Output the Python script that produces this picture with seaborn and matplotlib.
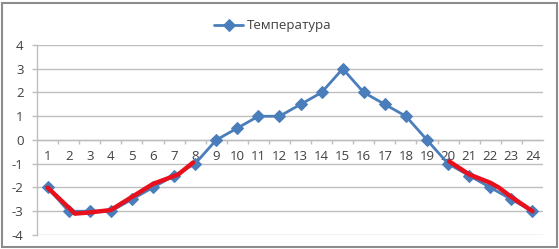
import matplotlib
matplotlib.use("Agg")
import matplotlib.pyplot as plt
import seaborn as sns
import pandas as pd
from matplotlib.patches import Rectangle

hours = list(range(1, 25))
temperature = [-2, -3, -3, -3, -2.5, -2, -1.5, -1, 0, 0.5, 1, 1, 1.5, 2, 3, 2, 1.5, 1, 0, -1, -1.5, -2, -2.5, -3]
series_name = "Температура"

# hand-drawn red overlay
red_left_x = [1, 2.3, 3, 4, 5, 6, 7.2, 7.9]
red_left_y = [-2, -3.1, -3.05, -2.95, -2.4, -1.85, -1.45, -0.95]
red_right_x = [20.05, 21, 22, 22.4, 23, 24]
red_right_y = [-0.9, -1.45, -1.8, -2.0, -2.4, -3.0]

y_ticks = [-4, -3, -2, -1, 0, 1, 2, 3, 4]

sns.set_theme(style="white")
plt.rcParams['font.family'] = ['Open Sans', 'DejaVu Sans']

fig = plt.figure(figsize=(5.59, 2.49), dpi=100)
ax = fig.add_axes([37/559, 1 - 235/249, (543 - 37)/559, (235 - 45)/249])

blue = "#4A7EBB"
grid_c = "#BEBEBE"

for v in y_ticks:
    ax.axhline(v, color=grid_c, lw=1.0, zorder=0)

df = pd.DataFrame({"hour": hours, "temp": temperature})
sns.lineplot(data=df, x="hour", y="temp", ax=ax, color=blue, lw=2.0,
             marker="D", markersize=6.5, markeredgecolor=blue, label=series_name, zorder=3)

red = "#E8101C"
sns.lineplot(x=red_left_x, y=red_left_y, ax=ax, color=red, lw=3.2, sort=False,
             solid_capstyle="round", zorder=4)
sns.lineplot(x=red_right_x, y=red_right_y, ax=ax, color=red, lw=3.2, sort=False,
             solid_capstyle="round", zorder=4)

ax.set_xlim(0.5, 24.5)
ax.set_ylim(-4, 4)
ax.set_xlabel("")
ax.set_ylabel("")

for s in ["top", "right"]:
    ax.spines[s].set_visible(False)
ax.spines["left"].set_color(grid_c)
ax.spines["left"].set_linewidth(1.0)
ax.spines["bottom"].set_position(("data", 0))
ax.spines["bottom"].set_color(grid_c)
ax.spines["bottom"].set_linewidth(1.0)

ax.set_yticks(y_ticks)
ax.set_yticklabels([str(v) for v in y_ticks])
ax.tick_params(axis="y", length=3.6, width=1.0, color=grid_c, pad=6, labelsize=9.5,
               labelcolor="#404040", left=True)

ax.set_xticks([h + 0.5 for h in hours[:-1]])
ax.set_xticklabels([])
ax.set_xticks(hours, minor=True)
ax.set_xticklabels([str(h) for h in hours], minor=True)
ax.tick_params(axis="x", which="major", length=3, width=1.0, color=grid_c, direction="out", bottom=True)
ax.tick_params(axis="x", which="minor", length=0, pad=7, labelsize=9.5, labelcolor="#404040", bottom=True)

leg = ax.legend(loc="upper left", bbox_to_anchor=(205/559, 1 - 10/249), bbox_transform=fig.transFigure,
                frameon=False, fontsize=9.5, handlelength=2.2, handletextpad=0.3, borderpad=0.2)
for t in leg.get_texts():
    t.set_color("#404040")

fig.patches.append(Rectangle((2/559, 2/249), 555/559, 244/249, transform=fig.transFigure,
                             fill=False, edgecolor="#8C8C8C", lw=1.5))

fig.savefig("out.png", dpi=100)
